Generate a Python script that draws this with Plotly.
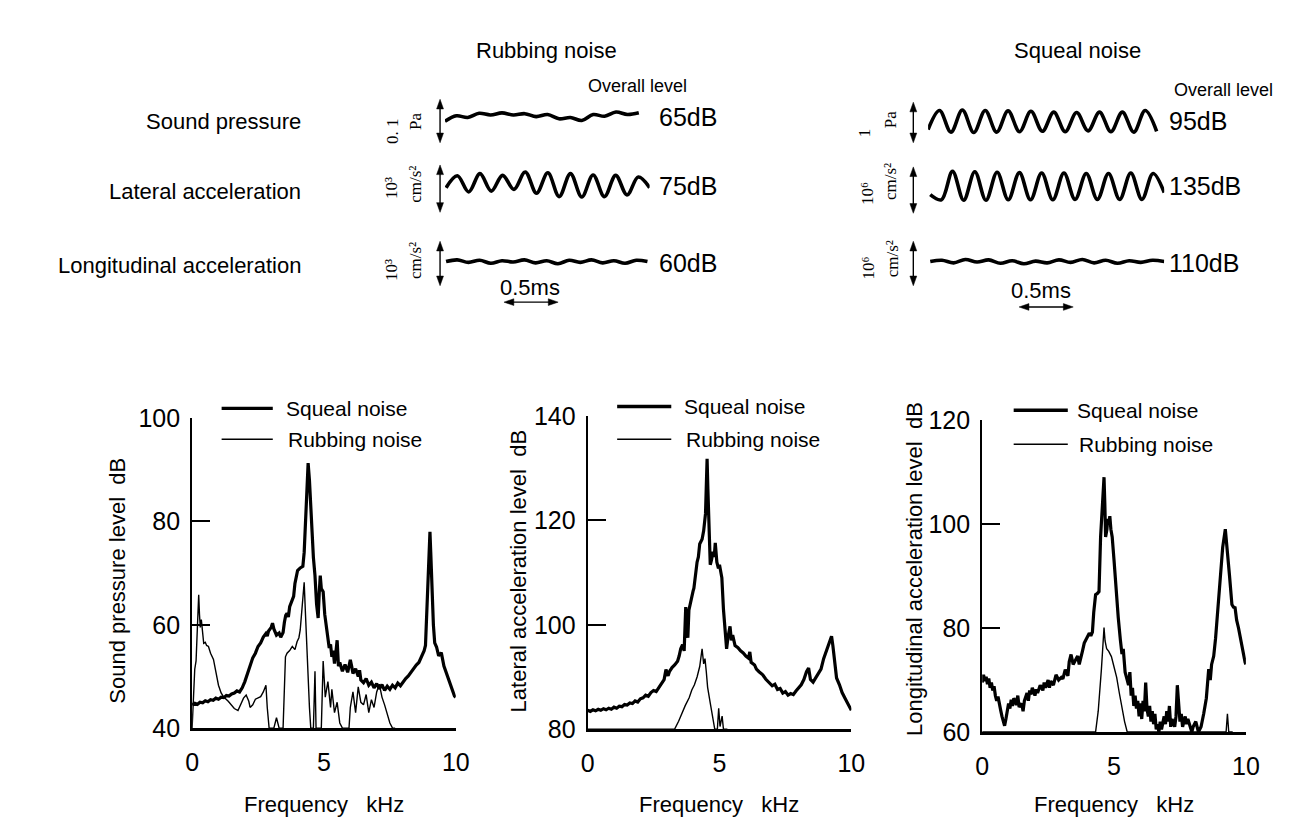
import numpy as np
import plotly.graph_objects as go

W, H = 1306, 823
SANS = "Liberation Sans, Arial, sans-serif"
THIN = "Liberation Sans, Arial, sans-serif"
SERIF = "Liberation Serif, DejaVu Serif, Times New Roman, serif"

# ---------------- spectra data (kHz, dB) ----------------
sp_squeal_f = [0.0,0.1,0.2,0.3,0.4,0.5,0.6,0.7,0.8,0.9,1.0,1.1,1.2,1.3,1.4,1.5,1.6,1.7,1.8,1.9,2.0,2.1,2.2,2.3,2.4,2.5,2.6,2.7,2.8,2.85,2.9,3.0,3.05,3.1,3.2,3.3,3.36,3.45,3.5,3.55,3.6,3.65,3.7,3.75,3.8,3.85,3.9,3.95,4.0,4.1,4.2,4.25,4.3,4.35,4.4,4.45,4.5,4.55,4.6,4.66,4.72,4.78,4.82,4.86,4.9,4.97,5.03,5.1,5.15,5.2,5.25,5.3,5.35,5.4,5.45,5.5,5.55,5.6,5.7,5.8,5.9,6.0,6.05,6.1,6.2,6.3,6.35,6.4,6.5,6.6,6.7,6.8,6.9,7.0,7.1,7.2,7.3,7.4,7.5,7.6,7.7,7.8,7.9,8.0,8.1,8.2,8.3,8.4,8.5,8.6,8.7,8.8,8.85,8.9,8.95,9.0,9.02,9.05,9.1,9.15,9.2,9.27,9.35,9.45,9.55,9.65,9.75,9.85,9.95,10.0]
sp_squeal_db = [44.5,44.8,44.6,45.0,44.9,45.3,45.1,45.5,45.4,45.8,45.6,46.0,45.9,46.3,46.2,46.6,46.8,47.2,47.0,47.8,49.0,50.5,52.2,53.6,54.5,55.8,56.5,57.6,58.3,57.8,58.8,59.5,60.3,59.2,58.0,58.4,57.6,58.5,60.5,61.8,62.2,61.5,63.5,64.2,64.5,65.5,68.0,69.5,70.5,71.0,71.3,74.0,80.0,86.0,91.3,88.0,84.0,78.0,73.0,69.5,64.0,61.3,66.0,69.5,67.0,66.4,62.0,59.0,57.6,55.5,56.2,53.8,55.0,52.5,54.5,57.0,52.0,52.7,51.0,52.3,50.8,53.2,52.0,50.6,51.5,50.0,51.2,49.3,48.8,49.6,48.3,48.9,47.8,48.6,47.6,48.4,47.3,48.1,47.5,48.3,47.8,48.7,48.2,49.0,49.6,50.1,50.8,51.6,52.2,52.7,53.8,55.0,56.0,62.0,70.0,77.5,78.0,74.0,66.0,60.0,56.5,55.7,54.0,54.6,52.0,50.5,49.0,47.5,46.2,46.0]

sp_rubbing_f = [0.0,0.05,0.1,0.15,0.2,0.25,0.28,0.31,0.35,0.4,0.44,0.5,0.55,0.62,0.7,0.81,0.9,1.0,1.1,1.2,1.37,1.5,1.6,1.74,1.85,1.95,2.05,2.15,2.2,2.3,2.4,2.49,2.6,2.7,2.8,2.85,2.92,3.0,3.1,3.2,3.3,3.45,3.5,3.54,3.6,3.7,3.8,3.9,3.98,4.05,4.1,4.15,4.2,4.25,4.3,4.35,4.4,4.45,4.5,4.6,4.66,4.7,4.9,4.97,5.05,5.15,5.25,5.3,5.4,5.5,5.6,5.7,5.95,6.0,6.1,6.2,6.3,6.4,6.5,6.6,6.7,6.8,6.9,7.0,7.1,7.2,7.3,7.4,7.5,7.6,7.7]
sp_rubbing_db = [40.0,46.0,51.4,53.0,58.0,65.8,62.0,59.5,61.0,57.5,56.4,56.6,56.0,55.8,54.5,53.3,51.0,48.3,46.8,46.0,45.2,44.3,43.8,43.4,44.8,45.8,46.4,45.2,44.0,44.5,45.6,45.8,46.1,47.0,48.3,44.0,40.0,40.0,40.0,42.0,40.0,40.0,50.0,53.8,54.5,55.0,55.8,55.2,56.7,57.5,59.0,62.0,65.0,68.2,62.0,55.0,49.5,44.0,40.0,40.0,51.0,40.0,40.0,53.0,46.0,49.0,44.0,47.5,43.0,45.0,41.0,40.0,40.0,44.0,47.0,43.0,48.0,45.0,44.5,46.5,43.0,45.5,44.0,47.0,48.5,46.0,44.5,42.5,41.0,40.0,40.0]

lat_squeal_f = [0.0,0.1,0.2,0.3,0.4,0.5,0.6,0.7,0.8,0.9,1.0,1.1,1.2,1.3,1.4,1.5,1.6,1.7,1.8,1.9,2.0,2.1,2.2,2.3,2.4,2.5,2.6,2.7,2.8,2.9,2.97,3.05,3.1,3.2,3.3,3.41,3.47,3.53,3.6,3.66,3.72,3.76,3.8,3.84,3.9,4.0,4.03,4.1,4.15,4.2,4.25,4.34,4.4,4.47,4.5,4.53,4.56,4.6,4.65,4.7,4.75,4.8,4.84,4.9,4.96,5.0,5.05,5.09,5.15,5.2,5.27,5.32,5.4,5.45,5.5,5.59,5.7,5.8,5.9,6.0,6.1,6.15,6.2,6.33,6.4,6.5,6.64,6.75,6.85,7.0,7.1,7.2,7.3,7.4,7.5,7.6,7.7,7.8,7.9,8.0,8.1,8.2,8.3,8.38,8.45,8.55,8.65,8.75,8.85,8.95,9.07,9.15,9.25,9.3,9.38,9.44,9.55,9.65,9.75,9.85,9.95,10.0]
lat_squeal_db = [83.6,83.4,83.7,83.5,83.8,83.6,83.9,83.7,84.0,83.8,84.2,84.0,84.4,84.3,84.7,84.6,85.0,84.9,85.4,85.2,85.8,86.0,86.5,86.3,87.0,87.4,87.2,88.0,88.6,89.5,91.4,90.2,91.0,91.8,92.3,93.0,94.0,95.4,96.2,95.0,103.4,99.0,97.5,102.8,104.5,106.5,107.0,110.5,112.0,113.0,115.5,116.4,118.0,121.3,127.0,131.8,126.0,118.0,111.5,112.5,114.0,113.0,115.7,112.0,110.8,111.5,109.5,109.0,103.0,99.0,95.4,97.5,99.7,97.0,98.0,96.0,95.6,95.0,94.6,94.0,93.6,94.8,92.8,92.3,91.5,91.0,90.4,89.6,89.0,88.3,88.6,87.6,87.8,86.9,87.2,86.5,86.8,86.6,87.3,88.0,88.5,89.5,91.0,91.7,89.5,89.0,89.8,90.5,91.5,93.5,95.4,96.5,97.8,96.0,93.0,89.8,88.5,87.0,86.0,85.0,84.0,83.6]

lat_rubbing_f = [0.0,3.3,3.45,3.6,3.7,3.85,3.95,4.05,4.15,4.25,4.34,4.4,4.45,4.5,4.55,4.65,4.75,4.82,4.92,4.97,5.02,5.1,5.15,5.3]
lat_rubbing_db = [80.0,80.0,81.5,83.5,84.5,86.0,87.5,88.5,90.0,92.0,95.4,92.5,93.5,91.0,88.0,85.0,82.0,80.0,80.0,84.0,80.5,82.5,80.0,80.0]

lon_squeal_f = [0.0,0.05,0.1,0.15,0.2,0.25,0.3,0.35,0.4,0.45,0.5,0.55,0.6,0.65,0.7,0.75,0.8,0.85,0.9,0.95,1.0,1.05,1.1,1.15,1.2,1.3,1.35,1.4,1.5,1.55,1.6,1.7,1.75,1.8,1.85,1.9,2.0,2.05,2.1,2.2,2.3,2.35,2.4,2.5,2.55,2.6,2.7,2.8,2.9,3.0,3.06,3.15,3.25,3.3,3.37,3.45,3.55,3.62,3.68,3.74,3.8,3.87,3.95,4.06,4.12,4.18,4.23,4.3,4.36,4.43,4.49,4.55,4.62,4.65,4.68,4.73,4.76,4.8,4.84,4.88,4.93,5.0,5.08,5.16,5.24,5.3,5.35,5.42,5.49,5.55,5.6,5.65,5.7,5.75,5.8,5.85,5.9,5.95,6.0,6.05,6.1,6.15,6.2,6.25,6.3,6.35,6.4,6.45,6.5,6.55,6.6,6.65,6.7,6.75,6.8,6.9,6.95,7.0,7.05,7.1,7.15,7.2,7.3,7.35,7.4,7.45,7.5,7.55,7.6,7.7,7.75,7.8,7.9,7.95,8.0,8.1,8.2,8.3,8.4,8.5,8.59,8.65,8.7,8.78,8.85,8.9,8.97,9.05,9.12,9.22,9.3,9.38,9.47,9.53,9.59,9.65,9.72,9.78,9.85,9.92,9.97,10.0]
lon_squeal_db = [69.5,71.0,69.8,70.6,69.2,70.3,68.5,69.5,68.0,68.8,67.0,66.0,66.8,65.0,64.2,63.0,62.0,61.2,62.5,64.0,65.5,64.5,66.2,65.0,66.5,65.2,67.0,64.8,65.5,64.0,66.0,67.5,66.0,68.0,67.2,68.5,67.0,68.2,67.5,69.0,68.0,69.5,68.5,70.0,68.5,69.8,69.0,71.0,70.0,70.5,70.2,72.0,70.8,73.5,74.9,73.0,74.0,74.6,73.0,74.0,75.5,77.1,78.0,79.0,78.5,79.2,83.0,86.4,86.6,87.0,97.5,104.0,109.0,104.0,97.5,99.0,101.0,100.0,101.5,99.0,97.5,93.0,87.0,82.0,77.7,75.0,76.0,71.5,70.2,69.0,71.5,67.0,68.5,65.0,67.0,64.5,66.0,63.0,65.5,62.5,66.0,64.0,69.5,64.5,63.0,65.0,62.0,64.0,61.5,63.5,60.5,61.5,60.0,62.0,60.5,63.0,61.5,64.0,62.0,65.0,61.0,62.5,61.0,63.0,69.0,64.0,62.0,63.5,61.0,63.0,61.5,62.5,61.0,60.0,61.0,62.0,60.0,61.0,63.5,66.5,72.1,70.0,73.0,74.6,78.0,81.0,86.4,91.0,95.5,99.0,95.0,90.0,84.5,84.0,83.9,81.5,80.0,78.3,77.0,74.5,73.4,73.0]

lon_rubbing_f = [0.0,4.3,4.4,4.47,4.52,4.57,4.62,4.66,4.72,4.8,4.9,5.0,5.1,5.2,5.3,5.4,5.5,9.25,9.3,9.35,9.5]
lon_rubbing_db = [60.0,60.0,64.0,68.0,72.0,76.0,80.1,77.5,76.0,75.5,74.5,72.5,70.5,67.5,64.5,62.0,60.0,60.0,63.5,60.0,60.0]

# ---------------- time waveforms (ms, amplitude in scale-bar units) ----------------
rub_sp_t = (0.0, 1.79)
rub_sp_v = [-0.11,0.02,-0.02,0.08,0.04,0.09,0.04,0.07,0.0,0.05,-0.05,-0.02,-0.09,0.05,0.01,0.11,0.05,0.09]
rub_lat_t = (0.01, 1.89)
rub_lat_v = [-0.08,0.2,-0.18,0.25,-0.16,0.21,-0.12,0.29,-0.21,0.27,-0.29,0.25,-0.3,0.22,-0.29,0.21,-0.25,0.17,-0.08]
rub_lon_t = (0.01, 1.87)
rub_lon_v = [0.0,0.04,-0.02,0.03,-0.04,0.02,-0.01,0.04,-0.03,0.02,-0.05,0.03,-0.02,0.04,-0.03,0.02,-0.04,0.03,0.0]
sq_sp_t = (0.0, 2.11)
sq_sp_v = [-0.19,0.26,-0.25,0.27,-0.26,0.26,-0.25,0.25,-0.24,0.24,-0.23,0.22,-0.24,0.21,-0.22,0.22,-0.24,0.22,-0.25,0.26,-0.23]
sq_lat_t = (0.02, 2.18)
sq_lat_v = [-0.2,-0.32,0.35,-0.33,0.34,-0.33,0.33,-0.32,0.32,-0.32,0.31,-0.32,0.31,-0.31,0.3,-0.31,0.3,-0.31,0.31,-0.31,0.3,-0.15]
sq_lon_t = (0.02, 2.18)
sq_lon_v = [0.0,0.03,-0.03,0.05,-0.01,0.04,-0.04,0.02,-0.05,0.01,-0.03,0.04,-0.02,0.05,-0.03,0.03,-0.04,0.02,-0.02,0.03,0.0]

scale_bar_ms = 0.5
overall_rub = ["65dB", "75dB", "60dB"]
overall_sq = ["95dB", "135dB", "110dB"]
row_names = ["Sound pressure", "Lateral acceleration", "Longitudinal acceleration"]


def X(px):
    return px / W


def Y(py):
    return 1 - py / H


fig = go.Figure()

# ---------------- spectra ----------------
spectra = [
    ("x", "y", sp_squeal_f, sp_squeal_db, sp_rubbing_f, sp_rubbing_db),
    ("x2", "y2", lat_squeal_f, lat_squeal_db, lat_rubbing_f, lat_rubbing_db),
    ("x3", "y3", lon_squeal_f, lon_squeal_db, lon_rubbing_f, lon_rubbing_db),
]
for xa, ya, sf, sd, rf, rd in spectra:
    fig.add_trace(go.Scatter(x=rf, y=rd, xaxis=xa, yaxis=ya, mode="lines",
                             line=dict(color="black", width=1.4), hoverinfo="skip"))
    fig.add_trace(go.Scatter(x=sf, y=sd, xaxis=xa, yaxis=ya, mode="lines",
                             line=dict(color="black", width=3.2), hoverinfo="skip"))

# ---------------- waveforms ----------------
waves = [
    ("x4", "y4", rub_sp_t, rub_sp_v), ("x4", "y5", rub_lat_t, rub_lat_v), ("x4", "y6", rub_lon_t, rub_lon_v),
    ("x7", "y7", sq_sp_t, sq_sp_v), ("x7", "y8", sq_lat_t, sq_lat_v), ("x7", "y9", sq_lon_t, sq_lon_v),
]
for xa, ya, (t0, t1), v in waves:
    t = np.linspace(t0, t1, len(v))
    fig.add_trace(go.Scatter(x=t, y=v, xaxis=xa, yaxis=ya, mode="lines",
                             line=dict(color="black", width=3.6, shape="spline", smoothing=1.0),
                             hoverinfo="skip"))

tickfont = dict(family=THIN, size=25, color="black")


def spec_axes(n, x0, x1, ybot, ytop, yr, yt):
    s = "" if n == 1 else str(n)
    xa = dict(domain=[X(x0), X(x1)], range=[0, 10], tickvals=[0, 5, 10], showline=True,
              linewidth=2.6, linecolor="black", ticks="", showgrid=False, zeroline=False,
              tickfont=tickfont, ticklabelstandoff=10, anchor="y" + s, fixedrange=True)
    ya = dict(domain=[Y(ybot), Y(ytop)], range=yr, tickvals=yt, showline=True, linewidth=2,
              linecolor="black", ticks="inside", ticklen=18, tickwidth=1.6, tickcolor="black",
              showgrid=False, zeroline=False, tickfont=tickfont, ticklabelstandoff=5,
              anchor="x" + s, fixedrange=True)
    return xa, ya


layout = {}
for n, (x0, x1, yb, yt_, yr, ytv) in enumerate([
        (180, 448, 731, 410, [40, 100], [40, 60, 80, 100]),
        (582, 850, 732, 408, [80, 140], [80, 100, 120, 140]),
        (983, 1251, 735, 412, [60, 120], [60, 80, 100, 120])], start=1):
    xa, ya = spec_axes(n, x0, x1, yb, yt_, yr, ytv)
    layout["xaxis" if n == 1 else f"xaxis{n}"] = xa
    layout["yaxis" if n == 1 else f"yaxis{n}"] = ya

hidden = dict(visible=False, fixedrange=True, showgrid=False, zeroline=False)
layout["xaxis4"] = dict(hidden, domain=[X(437), X(645)], range=[0, 1.89], anchor="y4")
layout["xaxis7"] = dict(hidden, domain=[X(928), X(1168)], range=[0, 2.18], anchor="y7")
for n, (ytop, ybot) in zip([4, 5, 6], [(76, 120), (146, 190), (226, 270)]):
    layout[f"yaxis{n}"] = dict(hidden, domain=[Y(ybot), Y(ytop)], range=[-0.5, 0.5], anchor="x4")
for n, (ytop, ybot) in zip([7, 8, 9], [(81, 125), (148, 192), (226, 270)]):
    layout[f"yaxis{n}"] = dict(hidden, domain=[Y(ybot), Y(ytop)], range=[-0.5, 0.5], anchor="x7")

ann = []
shapes = []


def text(s, px, py, size=22, family=SANS, xanchor="center", angle=0):
    ann.append(dict(text=s, x=X(px), y=Y(py), xref="paper", yref="paper", showarrow=False,
                    xanchor=xanchor, yanchor="middle", textangle=angle,
                    font=dict(family=family, size=size, color="black")))


def tri(xref, yref, pts):
    p = "M " + " L ".join(f"{a},{b}" for a, b in pts) + " Z"
    shapes.append(dict(type="path", xref=xref, yref=yref, path=p,
                       fillcolor="black", line=dict(color="black", width=0.5)))


# titles
text("Rubbing noise", 540, 30)
text("Squeal noise", 1080, 30)
text("Overall level", 633, 66, size=18)
text("Overall level", 1228, 70, size=18)
for name, py in zip(row_names, [103, 175, 252]):
    text(name, 293, py, size=22, xanchor="right")
for lab, py in zip(overall_rub, [98, 170, 250]):
    text(lab, 652, py, size=25, family=THIN, xanchor="left")
for lab, py in zip(overall_sq, [103, 170, 250]):
    text(lab, 1171, py, size=25, family=THIN, xanchor="left")

# scale labels (rotated)
for s, px, py in [("0. 1", 383, 113), ("Pa", 407, 103),
                  ("10³", 382, 172), ("cm/s²", 407, 168),
                  ("10³", 382, 257), ("cm/s²", 407, 247),
                  ("1", 863, 115), ("Pa", 890, 101),
                  ("10⁶", 867, 178), ("cm/s²", 890, 165),
                  ("10⁶", 867, 255), ("cm/s²", 892, 245)]:
    text(s, px, py, size=17, family=SERIF, angle=-90)

# vertical double-headed scale arrows
for px, y0, y1 in [(432, 80, 125), (432, 148, 197), (432, 227, 273),
                   (913, 83, 125), (913, 150, 198), (913, 227, 273)]:
    shapes.append(dict(type="line", xref="paper", yref="paper", x0=X(px), x1=X(px),
                       y0=Y(y0 + 5), y1=Y(y1 - 5), line=dict(color="black", width=1.4)))
    tri("paper", "paper", [(X(px), Y(y0)), (X(px - 3.5), Y(y0 + 10)), (X(px + 3.5), Y(y0 + 10))])
    tri("paper", "paper", [(X(px), Y(y1)), (X(px - 3.5), Y(y1 - 10)), (X(px + 3.5), Y(y1 - 10))])

# 0.5 ms horizontal scale arrows (in time-axis units)
for xa, t0, py, tx, ty, ms_per_px in [("x4", 0.545, 290, 523, 275, 1.89 / 208),
                                      ("x7", 0.84, 295, 1043, 278, 2.18 / 240)]:
    t1 = t0 + scale_bar_ms
    hl = 10 * ms_per_px
    shapes.append(dict(type="line", xref=xa, yref="paper", x0=t0 + hl / 2, x1=t1 - hl / 2,
                       y0=Y(py), y1=Y(py), line=dict(color="black", width=1.4)))
    tri(xa, "paper", [(t0, Y(py)), (t0 + hl, Y(py - 3.5)), (t0 + hl, Y(py + 3.5))])
    tri(xa, "paper", [(t1, Y(py)), (t1 - hl, Y(py - 3.5)), (t1 - hl, Y(py + 3.5))])
    text("0.5ms", tx, ty, size=22, family=THIN)

# axis titles
text("Sound pressure level  dB", 104, 578, size=22, angle=-90)
text("Lateral acceleration level  dB", 512, 568, size=22, angle=-90)
text("Longitudinal acceleration level  dB", 914, 566, size=22, angle=-90)
for cx in [314, 716, 1117]:
    text("Frequency   kHz", cx, 810, size=22)

# legends
for lx0, lx1, ys, yr_, tx in [(210, 262, 400, 432, 273), (612, 667, 398, 432, 678), (1015, 1070, 402, 437, 1077)]:
    shapes.append(dict(type="line", xref="paper", yref="paper", x0=X(lx0), x1=X(lx1), y0=Y(ys), y1=Y(ys),
                       line=dict(color="black", width=3.4)))
    shapes.append(dict(type="line", xref="paper", yref="paper", x0=X(lx0), x1=X(lx1), y0=Y(yr_), y1=Y(yr_),
                       line=dict(color="black", width=1.5)))
    text("Squeal noise", tx, ys, size=21, xanchor="left")
    text("Rubbing noise", tx + 2, yr_, size=21, xanchor="left")

fig.update_layout(width=W, height=H, margin=dict(l=0, r=0, t=0, b=0), autosize=False,
                  paper_bgcolor="white", plot_bgcolor="rgba(0,0,0,0)", showlegend=False,
                  annotations=ann, shapes=shapes, **layout)

fig.write_html("out.html")
